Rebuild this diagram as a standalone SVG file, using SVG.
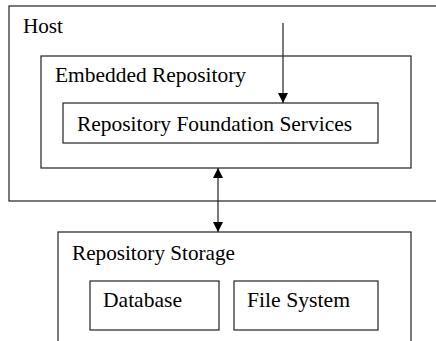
<svg xmlns="http://www.w3.org/2000/svg" width="436" height="341" viewBox="0 0 436 341">
<style>
.box{fill:#fff;stroke:#222;stroke-width:1.2}
.t{font-family:'Liberation Serif','Times New Roman','DejaVu Serif',serif;font-size:21px;fill:#000}
.c{stroke:#222;stroke-width:1.2;fill:none}
</style>
<defs>
<marker id="ah" viewBox="0 0 10 10" refX="10" refY="5" markerWidth="10" markerHeight="10" markerUnits="userSpaceOnUse" orient="auto-start-reverse">
<path d="M0,0 L10,5 L0,10 Z" fill="#000"/>
</marker>
</defs>
<rect width="436" height="341" fill="#fff"/>
<g id="host">
<rect class="box" x="9" y="6" width="440" height="195"/>
<text class="t" font-family="Liberation Serif, DejaVu Serif, serif" x="23" y="33" textLength="40" lengthAdjust="spacingAndGlyphs">Host</text>
</g>
<g id="embedded">
<rect class="box" x="41" y="56" width="370" height="112"/>
<text class="t" font-family="Liberation Serif, DejaVu Serif, serif" x="55" y="82" textLength="191" lengthAdjust="spacingAndGlyphs">Embedded Repository</text>
</g>
<g id="rfs">
<rect class="box" x="63" y="103" width="315" height="40"/>
<text class="t" font-family="Liberation Serif, DejaVu Serif, serif" x="77" y="131" textLength="275" lengthAdjust="spacingAndGlyphs">Repository Foundation Services</text>
</g>
<g id="storage">
<rect class="box" x="58" y="232" width="353" height="120"/>
<text class="t" font-family="Liberation Serif, DejaVu Serif, serif" x="72" y="260" textLength="163" lengthAdjust="spacingAndGlyphs">Repository Storage</text>
</g>
<g id="database">
<rect class="box" x="90" y="281" width="129" height="49"/>
<text class="t" font-family="Liberation Serif, DejaVu Serif, serif" x="103" y="307" textLength="79" lengthAdjust="spacingAndGlyphs">Database</text>
</g>
<g id="filesystem">
<rect class="box" x="234" y="281" width="144" height="49"/>
<text class="t" font-family="Liberation Serif, DejaVu Serif, serif" x="247" y="307" textLength="103" lengthAdjust="spacingAndGlyphs">File System</text>
</g>
<g id="connectors">
<line class="c" x1="283" y1="23" x2="283" y2="103" marker-end="url(#ah)"/>
<line class="c" x1="218" y1="168" x2="218" y2="232" marker-start="url(#ah)" marker-end="url(#ah)"/>
</g>
</svg>
